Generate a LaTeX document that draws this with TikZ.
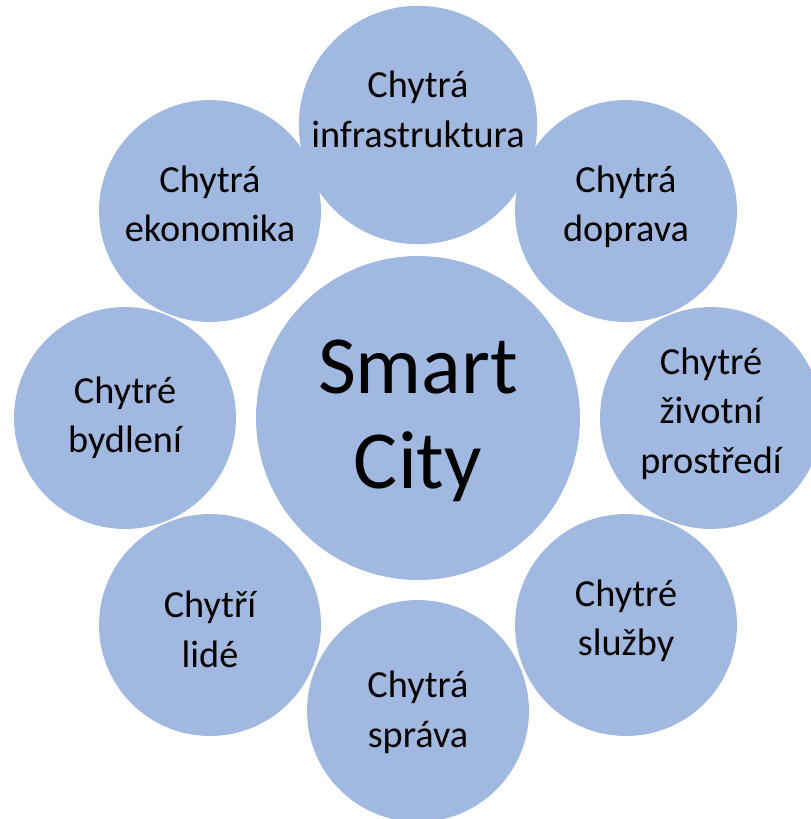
\documentclass[tikz,border=0pt]{standalone}
\usepackage{fontspec}
\setmainfont{Carlito}
\usepackage{tikz}
\definecolor{bubblefill}{RGB}{161,184,224}

\begin{document}
\begin{tikzpicture}[x=0.02cm, y=-0.02cm,
    bubble/.style={circle, fill=bubblefill, minimum size=4.44cm, inner sep=0pt,
      align=center, font=\fontsize{21.8}{28}\selectfont,
      execute at end node=\strut},
    hub/.style={bubble, minimum size=6.48cm, font=\fontsize{47}{54}\selectfont},
    drop/.style={execute at begin node={\rule{0pt}{#1}}},
    rise/.style={execute at end node={\rule[-#1]{0pt}{0pt}}}]
    \useasboundingbox (0, 0) rectangle (811, 819);
    \node[hub, drop=95.9pt] (city) at (418, 418){Smart\\City};
    \node[bubble, rise=18pt] (infra) at (418, 125){Chytrá\\infrastruktura};
    \node[bubble] (doprava) at (626, 211){Chytrá\\doprava};
    \node[bubble] (prostredi) at (711, 418){Chytré\\životní\\prostředí};
    \node[bubble] (sluzby) at (626, 625){Chytré\\služby};
    \node[bubble, drop=49.4pt] (sprava) at (418, 711){Chytrá\\správa};
    \node[bubble, drop=56.2pt] (lide) at (210, 625){Chytří\\lidé};
    \node[bubble, drop=48.2pt] (bydleni) at (125, 418){Chytré\\bydlení};
    \node[bubble] (ekonomika) at (210, 211){Chytrá\\ekonomika};
  \end{tikzpicture}
\end{document}
